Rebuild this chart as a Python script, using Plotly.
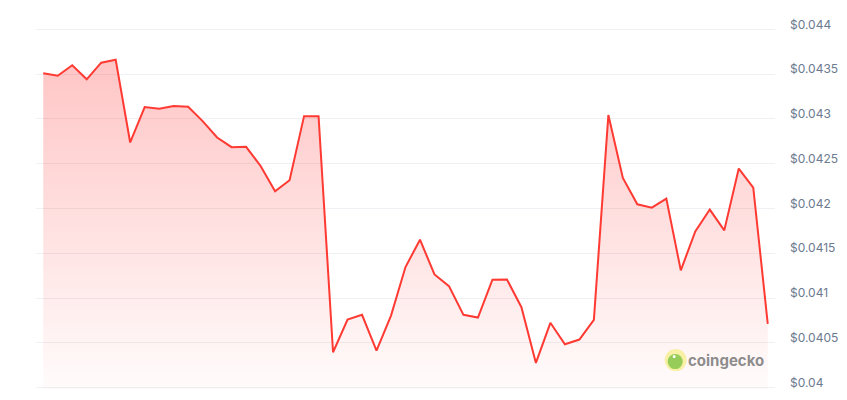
import plotly.graph_objects as go

# price points, oldest to newest
prices = [
    0.043509, 0.043482, 0.043599, 0.043442, 0.043628, 0.043661, 0.042737, 0.043132,
    0.043113, 0.043143, 0.043135, 0.042975, 0.042793, 0.042685, 0.042688, 0.042475,
    0.042192, 0.042316, 0.043031, 0.043031, 0.040395, 0.040761, 0.040813, 0.040414,
    0.040805, 0.041346, 0.041652, 0.041264, 0.041133, 0.040813, 0.040783, 0.041205,
    0.041208, 0.040898, 0.040276, 0.040724, 0.040484, 0.040537, 0.040757, 0.043043,
    0.042341, 0.042047, 0.042010, 0.042111, 0.041309, 0.041745, 0.041988, 0.041756,
    0.042446, 0.042234, 0.040713,
]
steps = list(range(len(prices)))

tick_vals = [0.04, 0.0405, 0.041, 0.0415, 0.042, 0.0425, 0.043, 0.0435, 0.044]
tick_text = ["$0.04", "$0.0405", "$0.041", "$0.0415", "$0.042",
             "$0.0425", "$0.043", "$0.0435", "$0.044"]

line_red = "rgb(255,58,51)"

fig = go.Figure()

fig.add_trace(go.Scatter(
    x=steps,
    y=prices,
    mode="lines",
    line=dict(color=line_red, width=2),
    fill="tozeroy",
    fillgradient=dict(
        type="vertical",
        colorscale=[[0, "rgba(255,60,60,0.02)"], [1, "rgba(255,60,60,0.30)"]],
        start=0.04,
        stop=0.0437,
    ),
    hoverinfo="skip",
    showlegend=False,
))

# coingecko watermark
logo_x, logo_y = 0.8656, 0.08
fig.add_shape(type="circle", xref="paper", yref="paper",
              xsizemode="pixel", ysizemode="pixel",
              xanchor=logo_x, yanchor=logo_y, x0=-11, x1=11, y0=-11, y1=11,
              fillcolor="rgba(246,238,150,0.85)", line=dict(width=0))
fig.add_shape(type="circle", xref="paper", yref="paper",
              xsizemode="pixel", ysizemode="pixel",
              xanchor=logo_x, yanchor=logo_y, x0=-8, x1=7, y0=-9, y1=6,
              fillcolor="rgba(140,200,80,0.9)", line=dict(width=0))
fig.add_shape(type="circle", xref="paper", yref="paper",
              xsizemode="pixel", ysizemode="pixel",
              xanchor=logo_x, yanchor=logo_y, x0=-3, x1=0, y0=2, y1=5,
              fillcolor="white", line=dict(width=0))
fig.add_annotation(
    xref="paper", yref="paper", x=0.88, y=logo_y,
    xanchor="left", yanchor="middle", showarrow=False,
    text="<b>coingecko</b>",
    font=dict(family="Inter, Roboto, sans-serif", size=15, color="rgba(120,120,120,0.85)"),
)

# page body adds an 8px margin, so the figure is 8px smaller and shifted
fig.update_layout(
    width=839,
    height=392,
    margin=dict(l=28, r=72, t=20, b=11),
    paper_bgcolor="white",
    plot_bgcolor="white",
    font=dict(family="Inter, Roboto, sans-serif"),
    xaxis=dict(
        range=[-0.5, len(prices) - 0.5],
        showgrid=False,
        showticklabels=False,
        zeroline=False,
        fixedrange=True,
    ),
    yaxis=dict(
        range=[0.039985, 0.044015],
        side="right",
        tickvals=tick_vals,
        ticktext=tick_text,
        showgrid=True,
        gridcolor="#eef0f3",
        gridwidth=1,
        zeroline=False,
        automargin=False,
        ticklabelstandoff=14,
        ticklabelshift=-5,
        tickfont=dict(size=12, color="#6b7a8f"),
        fixedrange=True,
    ),
)

fig.write_html("out.html")
